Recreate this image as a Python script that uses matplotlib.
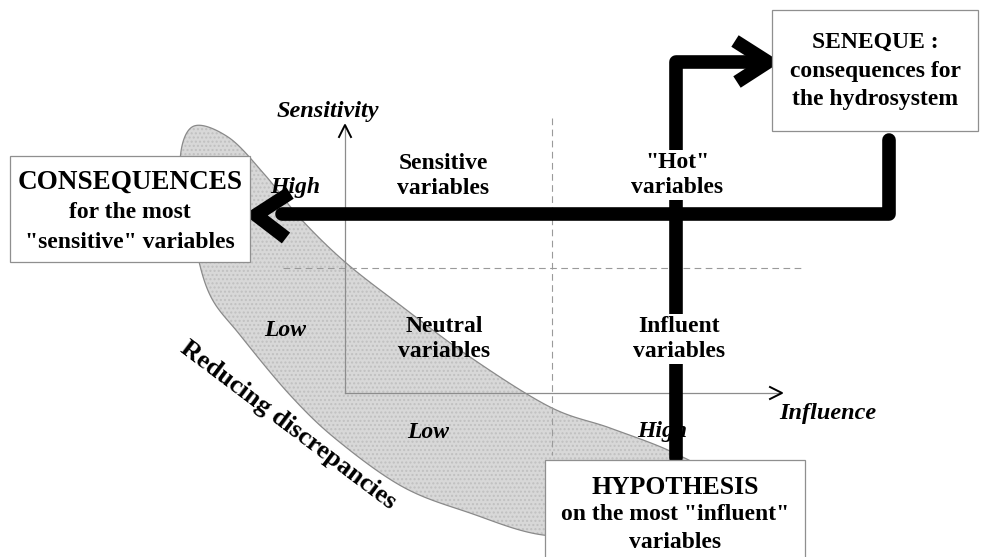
import numpy as np
import matplotlib
matplotlib.use("Agg")
import matplotlib.pyplot as plt
from matplotlib.patches import Polygon, Rectangle

# ---- content ----
quadrant_labels = ["Sensitive\nvariables", "\"Hot\"\nvariables", "Neutral\nvariables", "Influent\nvariables"]
quadrant_pos = [(443, 176), (677, 175), (444, 339), (679, 339)]
level_labels = ["High", "Low", "Low", "High"]
level_pos = [(295, 188), (285, 330), (428, 433), (662, 432)]
axis_titles = ["Sensitivity", "Influence"]
box_lines = [["CONSEQUENCES", "for the most", "\"sensitive\" variables"],
             ["SENEQUE :", "consequences for", "the hydrosystem"],
             ["HYPOTHESIS", "on the most \"influent\"", "variables"]]
band_label = "Reducing discrepancies"

# band outline (pixel coords of the picture)
band_x = [192, 228, 265, 300, 345, 400, 470, 550, 610, 672, 705, 690, 620, 543, 470, 403, 337, 290, 240, 210, 194, 180]
band_y = [127, 137, 175, 218, 262, 305, 357, 407, 428, 452, 475, 515, 533, 535, 513, 487, 440, 395, 335, 295, 240, 168]

W, H = 984, 557
fig = plt.figure(figsize=(W / 100, H / 100), dpi=100)
ax = fig.add_axes([0, 0, 1, 1])
ax.set_xlim(0, W)
ax.set_ylim(H, 0)
ax.axis("off")

SERIF = "Liberation Serif"

def catmull_closed(xs, ys, n=20):
    P = np.column_stack([xs, ys]).astype(float)
    m = len(P)
    out = []
    for i in range(m):
        p0, p1, p2, p3 = P[(i - 1) % m], P[i], P[(i + 1) % m], P[(i + 2) % m]
        for t in np.linspace(0, 1, n, endpoint=False):
            t2, t3 = t * t, t * t * t
            pt = 0.5 * ((2 * p1) + (-p0 + p2) * t + (2 * p0 - 5 * p1 + 4 * p2 - p3) * t2
                        + (-p0 + 3 * p1 - 3 * p2 + p3) * t3)
            out.append(pt)
    return np.array(out)

pts = catmull_closed(band_x, band_y)
ax.add_patch(Polygon(pts, closed=True, facecolor="#d8d8d8", edgecolor="#c0c0c0",
                     hatch="....", lw=0, zorder=1))
ax.add_patch(Polygon(pts, closed=True, facecolor="none", edgecolor="#8a8a8a", lw=0.9, zorder=1.5))

# dashed quadrant lines
ax.plot([552, 552], [118, 455], color="#9a9a9a", lw=0.8, ls=(0, (6, 4)), zorder=2)
ax.plot([283, 805], [268, 268], color="#9a9a9a", lw=0.8, ls=(0, (6, 4)), zorder=2)

# axes
ax.plot([345, 345], [127, 393], color="#8c8c8c", lw=0.9, zorder=2)
ax.plot([345, 780], [393, 393], color="#8c8c8c", lw=0.9, zorder=2)
ax.plot([339, 345, 351], [137, 125, 137], color="black", lw=1.4, zorder=2)
ax.plot([770, 782, 770], [387, 393, 399], color="black", lw=1.4, zorder=2)

ax.text(328, 112, axis_titles[0], fontfamily=SERIF, fontweight="bold", fontstyle="italic",
        fontsize=17.5, ha="center", va="center", zorder=3)
ax.text(828, 413, axis_titles[1], fontfamily=SERIF, fontweight="bold", fontstyle="italic",
        fontsize=17.5, ha="center", va="center", zorder=3)

for (x, y), s in zip(level_pos, level_labels):
    ax.text(x, y, s, fontfamily=SERIF, fontweight="bold", fontstyle="italic",
            fontsize=17, ha="center", va="center", zorder=3)

# thick arrows
LW = 9.8
ax.plot([676, 676, 750], [458, 62, 62], color="black", lw=LW, solid_capstyle="round",
        solid_joinstyle="round", zorder=4)
ax.plot([735, 768, 737], [41, 62, 82], color="black", lw=LW, solid_capstyle="butt",
        solid_joinstyle="miter", zorder=4)
ax.plot([889, 889, 282], [140, 214, 214], color="black", lw=LW, solid_capstyle="round",
        solid_joinstyle="round", zorder=4)
ax.plot([290, 256, 286], [193, 215, 238], color="black", lw=LW, solid_capstyle="butt",
        solid_joinstyle="miter", zorder=4)

# quadrant labels
for i, ((x, y), s) in enumerate(zip(quadrant_pos, quadrant_labels)):
    bb = dict(boxstyle="square,pad=0.05", fc="white", ec="none") if i in (1, 3) else None
    ax.text(x, y, s, fontfamily=SERIF, fontweight="bold", fontsize=17, ha="center",
            va="center", linespacing=1.3, bbox=bb, zorder=5)

# boxes
boxes = [(10, 156, 240, 106), (772, 10, 206, 121), (545, 460, 260, 110)]
line_ys = [[182, 213, 243], [42, 72, 100], [487, 515, 543]]
title_sizes = [19.5, 17, 18.5]
for (bx, by, bw, bh), lines, ys, ts in zip(boxes, box_lines, line_ys, title_sizes):
    ax.add_patch(Rectangle((bx, by), bw, bh, facecolor="white", edgecolor="#8f8f8f", lw=0.9, zorder=6))
    cx = bx + bw / 2
    for j, (s, y) in enumerate(zip(lines, ys)):
        ax.text(cx, y, s, fontfamily=SERIF, fontweight="bold", fontsize=ts if j == 0 else 17,
                ha="center", va="center", zorder=7)

ax.text(288, 425, band_label, fontfamily=SERIF, fontweight="bold", fontsize=19, rotation=-37,
        rotation_mode="anchor", ha="center", va="center", zorder=3)

fig.savefig("out.png", dpi=100)
